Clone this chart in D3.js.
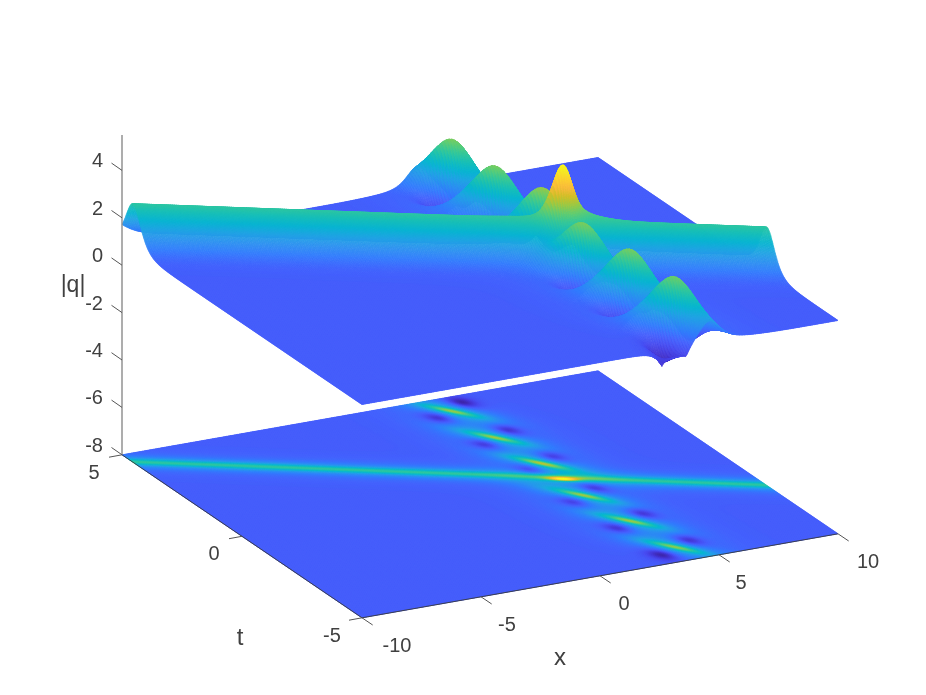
<!DOCTYPE html>
<html><head><meta charset="utf-8">
<script src="https://cdn.jsdelivr.net/npm/d3@7"></script>
<style>
html,body{margin:0;padding:0;background:#fff;width:926px;height:695px;overflow:hidden}
#wrap{position:relative;width:926px;height:695px}
canvas{position:absolute;left:0;top:0;filter:blur(0.5px)}
svg{position:absolute;left:0;top:0;filter:blur(0.25px)}
text{font-family:"Liberation Sans",Arial,sans-serif;fill:#404040}
</style></head><body><div id="wrap"></div>
<script>
// ---- axis ticks ----
const xTicks=[-10,-5,0,5,10];
const tTicks=[-5,0,5];
const zTicks=[-8,-6,-4,-2,0,2,4];
const xTickLabelShift=[[35,27],[26,27],[24,27],[22,27],[30,27]];
// ---- surface features ----
const backgroundZ=1;
const ridgeCrestZ=2.9;
const ridgeEndT=[4.54,-2.04];      // crest's t at x=-10 and x=10
const peakX=[3.12,3.26,3.55,3.37,3.67,3.89];
const peakT=[4.27,2.61,0.95,-0.96,-2.61,-4.27];
const peakZ=[3.62,3.62,3.78,3.66,3.6,3.56];
const dipX=[3.87,2.35,4.04,2.6,4.22,2.87,4.08,2.73,4.42,2.92,4.66,3.09];
const dipT=[4.6,4.07,2.87,2.37,1.2,0.76,-0.67,-1.18,-2.35,-2.83,-4.05,-4.51];
const dipZ=[.3,.3,.3,.3,.35,.35,.35,.35,.3,.3,.3,.3];
const notchX=[2.6,3.62];
const notchT=[-5,-5];
const notchDepth=[.55,.4];
const crossing={x:3.5,t:0,z:5.25};
const parulaStops=["#3e26a8","#4537d5","#484df0","#4563fd","#327cfc","#2b91ef","#20a5e2","#08b5d0","#19bfb6","#37c897","#64cd6f","#9dc943","#d1bf27","#f8ba3d","#fccf30","#f5e924","#f9fb15"];
const colorDomain=[0.08,5.33];
// colour level of the floor map against its height
const floorFrom=[0.3,1,2.9,3.6,5.3];
const floorTo=[0.1,1,2.95,3.8,5.6];

// ---- projection through d3 scales ----
const W=926,H=695;
const xToSx=d3.scaleLinear().domain([-10,10]).range([0,476]);
const xToSy=d3.scaleLinear().domain([-10,10]).range([0,-84]);
const tToSx=d3.scaleLinear().domain([5,-5]).range([122,362]);
const tToSy=d3.scaleLinear().domain([5,-5]).range([0,163]);
const zToSy=d3.scaleLinear().domain([-8,0]).range([454.8,265.2]);
const px=(x,t)=>xToSx(x)+tToSx(t);
const py=(x,t,z)=>xToSy(x)+tToSy(t)+zToSy(z);
const color=d3.scaleSequential(d3.piecewise(d3.interpolateRgb,parulaStops)).domain(colorDomain).clamp(true);
const floorLevel=d3.scaleLinear().domain(floorFrom).range(floorTo).clamp(true);

// ---- height ----
const sech2=r=>{const c=Math.cosh(r);return 1/(c*c);};
const ridgeT=d3.scaleLinear().domain([-10,10]).range(ridgeEndT);
function height(x,t,floor){
  let z=backgroundZ;
  const dr=t-ridgeT(x);
  z+=(ridgeCrestZ-backgroundZ)*(floor?.7*sech2(dr*5)+.3*sech2(dr*2.2):.85*sech2(dr*2.5)+.15*sech2(dr*1.5));
  const skirtMask=1-.9*sech2(dr*1.4);
  peakX.forEach((px0,i)=>{
    const dx=x-px0,dt=t-peakT[i];
    const u=dx*.79-dt*.61,v=dx*.61+dt*.79;
    z+=(peakZ[i]-backgroundZ)*(floor?.6*sech2(Math.hypot(u/.8,v/.17))+.4*sech2(Math.hypot(u/1.5,v/.55))
                                    :.78*sech2(Math.hypot(u/.9,v/.3))+.22*skirtMask*sech2(Math.hypot(u/1.7,v/.55)));
  });
  const mask=floor?1:1-.85*sech2(dr*1.3);
  dipX.forEach((dx0,i)=>{
    const dx=x-dx0,dt=t-dipT[i];
    const u=dx*.9-dt*.43,v=dx*.43+dt*.9;
    z-=mask*(backgroundZ-dipZ[i]+.25)*sech2(Math.hypot(u/.5,v/(floor?.32:.36)));
  });
  if(!floor) notchX.forEach((nx,i)=>{
    const r=Math.hypot((x-nx)/.28,(t-notchT[i])/.2);
    z-=notchDepth[i]*Math.exp(-r);
  });
  const dx=x-crossing.x,dt=t-crossing.t;
  const u=(dx-dt*.329)/1.053,v=(dx*.329+dt)/1.053;
  z+=(crossing.z-ridgeCrestZ)*(floor?sech2(Math.hypot(u/.45,v/.1)):sech2(Math.hypot(u/.45,v/.3)));
  return z;
}

// ---- canvas drawing ----
const wrap=d3.select("#wrap");
const canvas=wrap.append("canvas").attr("width",W).attr("height",H).node();
const ctx=canvas.getContext("2d");
const xs=d3.range(0,301).map(i=>-10+i*20/300).reverse();
const ts=d3.range(0,801).map(i=>5-i*.0125);
const sxX=xs.map(x=>xToSx(x)),syX=xs.map(x=>xToSy(x));
const sxT=ts.map(t=>tToSx(t)),syT=ts.map(t=>tToSy(t));
const z0=zToSy(0),zK=zToSy(1)-zToSy(0),floorY=zToSy(-8);
function drawSheet(isFloor){
  const grid=ts.map(t=>Float32Array.from(xs,x=>height(x,t,isFloor)));
  ctx.lineWidth=.5;ctx.lineJoin="round";
  for(let j=0;j<ts.length-1;j++){
    const g0=grid[j],g1=grid[j+1];
    for(let i=0;i<xs.length-1;i++){
      const a=g0[i],b=g0[i+1],c=g1[i+1],d=g1[i];
      const m=(a+b+c+d)/4;
      const col=color(isFloor?floorLevel(m):m);
      const ya=isFloor?floorY:z0+zK*a,yb=isFloor?floorY:z0+zK*b,yc=isFloor?floorY:z0+zK*c,yd=isFloor?floorY:z0+zK*d;
      ctx.fillStyle=col;ctx.strokeStyle=col;
      ctx.beginPath();
      ctx.moveTo(sxX[i]+sxT[j],syX[i]+syT[j]+ya);
      ctx.lineTo(sxX[i+1]+sxT[j],syX[i+1]+syT[j]+yb);
      ctx.lineTo(sxX[i+1]+sxT[j+1],syX[i+1]+syT[j+1]+yc);
      ctx.lineTo(sxX[i]+sxT[j+1],syX[i]+syT[j+1]+yd);
      ctx.closePath();ctx.fill();ctx.stroke();
    }
  }
}
drawSheet(true);
drawSheet(false);

// ---- axes ----
const svg=wrap.append("svg").attr("width",W).attr("height",H);
const g=svg.append("g");
const tickCol="#555",axisCol="#3a3a3a";
g.append("line").attr("x1",px(-10,5)).attr("x2",px(-10,5)).attr("y1",zToSy(-8)).attr("y2",135)
 .attr("stroke","#8a8a8a").attr("stroke-width",1.4);
g.append("line").attr("x1",px(-10,5)).attr("y1",py(-10,5,-8)).attr("x2",px(-10,-5)).attr("y2",py(-10,-5,-8))
 .attr("stroke",axisCol).attr("stroke-width",.9);
g.append("line").attr("x1",px(-10,-5)).attr("y1",py(-10,-5,-8)).attr("x2",px(10,-5)).attr("y2",py(10,-5,-8))
 .attr("stroke",axisCol).attr("stroke-width",.9);
zTicks.forEach(v=>{
  const y=zToSy(v),x=px(-10,5);
  g.append("line").attr("x1",x).attr("y1",y).attr("x2",x-10.5).attr("y2",y-7.3).attr("stroke",tickCol).attr("stroke-width",1);
  g.append("text").attr("x",103).attr("y",y-3).attr("text-anchor","end").attr("font-size",20).text(v);
});
tTicks.forEach(v=>{
  const x=px(-10,v),y=py(-10,v,-8);
  g.append("line").attr("x1",x).attr("y1",y).attr("x2",x-13).attr("y2",y+2.4).attr("stroke",tickCol).attr("stroke-width",1);
  g.append("text").attr("x",x-28+(v<0?-2:0)).attr("y",y+24).attr("text-anchor","middle").attr("font-size",20).text(v);
});
xTicks.forEach((v,i)=>{
  const x=px(v,-5),y=py(v,-5,-8);
  g.append("line").attr("x1",x).attr("y1",y).attr("x2",x+10.7).attr("y2",y+7.2).attr("stroke",tickCol).attr("stroke-width",1);
  g.append("text").attr("x",x+xTickLabelShift[i][0]).attr("y",y+xTickLabelShift[i][1]+7).attr("text-anchor","middle").attr("font-size",20).text(v);
});
g.append("text").attr("x",73).attr("y",292).attr("text-anchor","middle").attr("font-size",23).text("|q|");
g.append("text").attr("x",240).attr("y",645).attr("text-anchor","middle").attr("font-size",24).text("t");
g.append("text").attr("x",560).attr("y",665).attr("text-anchor","middle").attr("font-size",24).text("x");
</script></body></html>
